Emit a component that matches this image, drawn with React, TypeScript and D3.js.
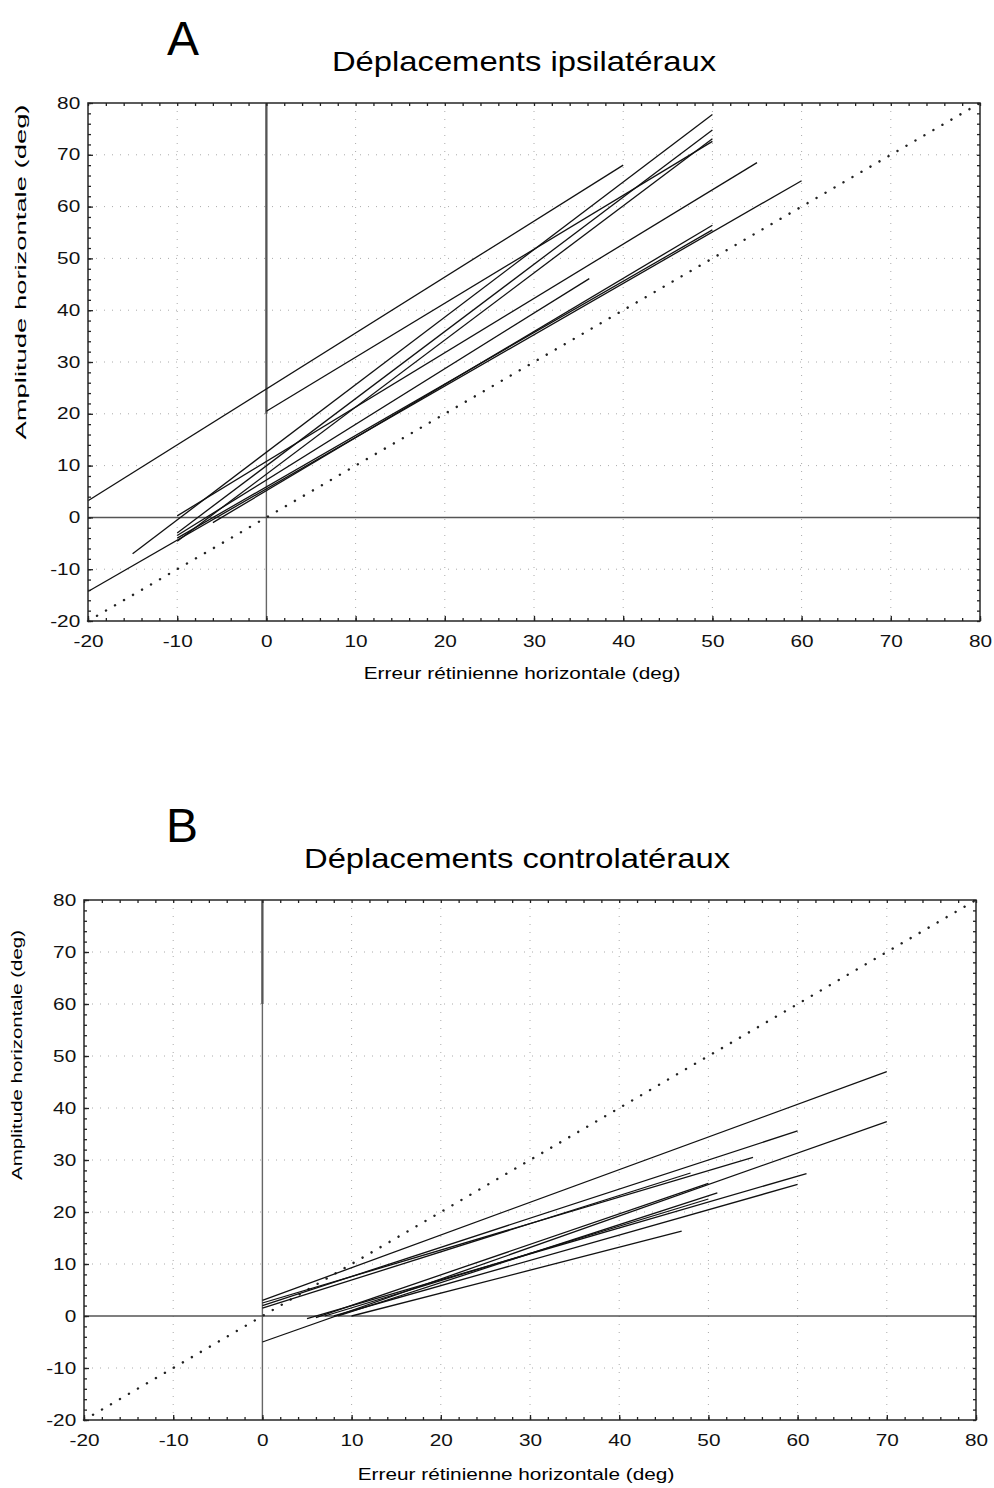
import { useEffect, useRef } from 'react';
import * as d3 from 'd3';

// axis ticks shared by both panels
const xTicks = [-20, -10, 0, 10, 20, 30, 40, 50, 60, 70, 80];
const yTicks = [-20, -10, 0, 10, 20, 30, 40, 50, 60, 70, 80];
const minorTicks = d3.range(-20, 81, 2);

// A: ipsilateral regression segments [x1, y1, x2, y2]
const ipsiSegments: number[][] = [
  [-20, 3.2, 40, 68],
  [0, 20.5, 50, 72.6],
  [-15, -7, 50, 77.8],
  [-10, -3, 50, 74.8],
  [-10, -4.6, 50, 73.1],
  [-10, 0.3, 55, 68.5],
  [-20, -14.3, 60, 65],
  [-10, -3.5, 36.2, 46.1],
  [-6, -1, 50, 56.4],
  [-10, -4, 50, 55.5],
];

// B: contralateral regression segments [x1, y1, x2, y2]
const contraSegments: number[][] = [
  [0, 3, 70, 47],
  [0, 2, 60, 35.6],
  [0, -5, 70, 37.4],
  [0, 2.5, 55, 30.5],
  [0, 1.5, 48, 27.5],
  [5, -0.5, 61, 27.4],
  [8, 0, 60, 25.3],
  [6, -0.3, 50, 25.5],
  [8.5, 0, 51, 23.7],
  [10, 0, 47, 16.3],
  [7, 0, 50, 22.5],
];

const font = '"Liberation Sans", Arial, sans-serif';
const stretch = 1.3; // the scanned figure is wider than tall

interface PanelLayout {
  left: number;
  right: number;
  top: number;
  bottom: number;
  letter: string;
  letterX: number;
  letterY: number;
  title: string;
  titleX: number;
  titleY: number;
  yLabelX: number;
  yLabelY: number;
  yLabelLen: number;
  xLabelX: number;
  xLabelY: number;
  vThick: [number, number];
}

const panels: PanelLayout[] = [
  {
    left: 88, right: 980, top: 103, bottom: 621,
    letter: 'A', letterX: 183, letterY: 55,
    title: 'Déplacements ipsilatéraux', titleX: 524, titleY: 71,
    yLabelX: 26, yLabelY: 272, yLabelLen: 335,
    xLabelX: 522, xLabelY: 679, vThick: [20, 80],
  },
  {
    left: 84, right: 976, top: 900, bottom: 1420,
    letter: 'B', letterX: 182, letterY: 842,
    title: 'Déplacements controlatéraux', titleX: 517, titleY: 868,
    yLabelX: 22, yLabelY: 1055, yLabelLen: 250,
    xLabelX: 516, xLabelY: 1480, vThick: [60, 80],
  },
];

function drawPanel(svg: d3.Selection<SVGSVGElement, unknown, null, undefined>, p: PanelLayout, segments: number[][]) {
  const x = d3.scaleLinear().domain([-20, 80]).range([p.left, p.right]);
  const y = d3.scaleLinear().domain([-20, 80]).range([p.bottom, p.top]);
  const g = svg.append('g');

  // dotted grid
  g.selectAll('.vgrid')
    .data(xTicks.filter(t => t > -20 && t < 80 && t !== 0))
    .join('line')
    .attr('x1', d => x(d)).attr('x2', d => x(d))
    .attr('y1', p.top).attr('y2', p.bottom)
    .attr('stroke', '#aaa').attr('stroke-width', 1)
    .attr('stroke-dasharray', '1,7');
  g.selectAll('.hgrid')
    .data(yTicks.filter(t => t > -20 && t < 80 && t !== 0))
    .join('line')
    .attr('x1', p.left).attr('x2', p.right)
    .attr('y1', d => y(d)).attr('y2', d => y(d))
    .attr('stroke', '#aaa').attr('stroke-width', 1)
    .attr('stroke-dasharray', '1,7');

  // zero lines
  g.append('line')
    .attr('x1', x(0)).attr('x2', x(0)).attr('y1', y(80)).attr('y2', y(-20))
    .attr('stroke', '#666').attr('stroke-width', 1.4);
  g.append('line')
    .attr('x1', x(0)).attr('x2', x(0)).attr('y1', y(p.vThick[1])).attr('y2', y(p.vThick[0]))
    .attr('stroke', '#555').attr('stroke-width', 2.2);
  g.append('line')
    .attr('x1', x(-20)).attr('x2', x(80)).attr('y1', y(0)).attr('y2', y(0))
    .attr('stroke', '#555').attr('stroke-width', 1.5);

  // identity line
  g.append('line')
    .attr('x1', x(-20)).attr('y1', y(-20)).attr('x2', x(80)).attr('y2', y(80))
    .attr('stroke', '#222').attr('stroke-width', 2.4)
    .attr('stroke-linecap', 'round')
    .attr('stroke-dasharray', '0.1,10.3');

  // regression segments
  g.selectAll('.seg')
    .data(segments)
    .join('line')
    .attr('x1', d => x(d[0])).attr('y1', d => y(d[1]))
    .attr('x2', d => x(d[2])).attr('y2', d => y(d[3]))
    .attr('stroke', '#111').attr('stroke-width', 1.3);

  // frame
  g.append('rect')
    .attr('x', p.left).attr('y', p.top)
    .attr('width', p.right - p.left).attr('height', p.bottom - p.top)
    .attr('fill', 'none').attr('stroke', '#333').attr('stroke-width', 1.6);

  // inward ticks on four sides
  const styleAxis = (sel: any) => {
    sel.select('.domain').remove();
    sel.selectAll('line').attr('stroke', '#222').attr('stroke-width', 1.3);
    sel.selectAll('text')
      .attr('font-family', font).attr('font-size', 16).attr('fill', '#111')
      .attr('transform', `scale(${stretch},1)`);
  };
  const fmt = (d: any) => String(d);

  g.append('g').attr('transform', `translate(0,${p.bottom})`)
    .call(d3.axisBottom(x).tickValues(xTicks).tickSize(-5).tickPadding(15).tickFormat(fmt))
    .call(styleAxis);
  g.append('g').attr('transform', `translate(0,${p.bottom})`)
    .call(d3.axisBottom(x).tickValues(minorTicks).tickSize(-3).tickFormat(() => ''))
    .call(styleAxis);
  g.append('g').attr('transform', `translate(0,${p.top})`)
    .call(d3.axisTop(x).tickValues(minorTicks).tickSize(-3).tickFormat(() => ''))
    .call(styleAxis);
  g.append('g').attr('transform', `translate(${p.left},0)`)
    .call(d3.axisLeft(y).tickValues(yTicks).tickSize(-5).tickPadding(6).tickFormat(fmt))
    .call(styleAxis);
  g.append('g').attr('transform', `translate(${p.left},0)`)
    .call(d3.axisLeft(y).tickValues(minorTicks).tickSize(-3).tickFormat(() => ''))
    .call(styleAxis);
  g.append('g').attr('transform', `translate(${p.right},0)`)
    .call(d3.axisRight(y).tickValues(minorTicks).tickSize(-3).tickFormat(() => ''))
    .call(styleAxis);

  // texts
  g.append('text')
    .attr('transform', `translate(${p.letterX},${p.letterY})`)
    .attr('text-anchor', 'middle')
    .attr('font-family', font).attr('font-size', 48)
    .text(p.letter);
  g.append('text')
    .attr('transform', `translate(${p.titleX},${p.titleY}) scale(1.17,1)`)
    .attr('text-anchor', 'middle')
    .attr('font-family', font).attr('font-size', 28)
    .text(p.title);
  g.append('text')
    .attr('transform', `translate(${p.yLabelX},${p.yLabelY}) rotate(-90)`)
    .attr('text-anchor', 'middle')
    .attr('font-family', font).attr('font-size', 15)
    .attr('textLength', p.yLabelLen)
    .attr('lengthAdjust', 'spacingAndGlyphs')
    .text('Amplitude horizontale (deg)');
  g.append('text')
    .attr('transform', `translate(${p.xLabelX},${p.xLabelY}) scale(${stretch},1)`)
    .attr('text-anchor', 'middle')
    .attr('font-family', font).attr('font-size', 16)
    .text('Erreur rétinienne horizontale (deg)');
}

export default function App() {
  const svgRef = useRef<SVGSVGElement>(null);

  useEffect(() => {
    if (!svgRef.current) return;
    const svg = d3.select(svgRef.current);
    svg.selectAll('*').remove();
    drawPanel(svg, panels[0], ipsiSegments);
    drawPanel(svg, panels[1], contraSegments);
  }, []);

  return (
    <svg
      ref={svgRef}
      width={994}
      height={1488}
      style={{ position: 'absolute', left: 0, top: 0, background: '#fff' }}
    />
  );
}
